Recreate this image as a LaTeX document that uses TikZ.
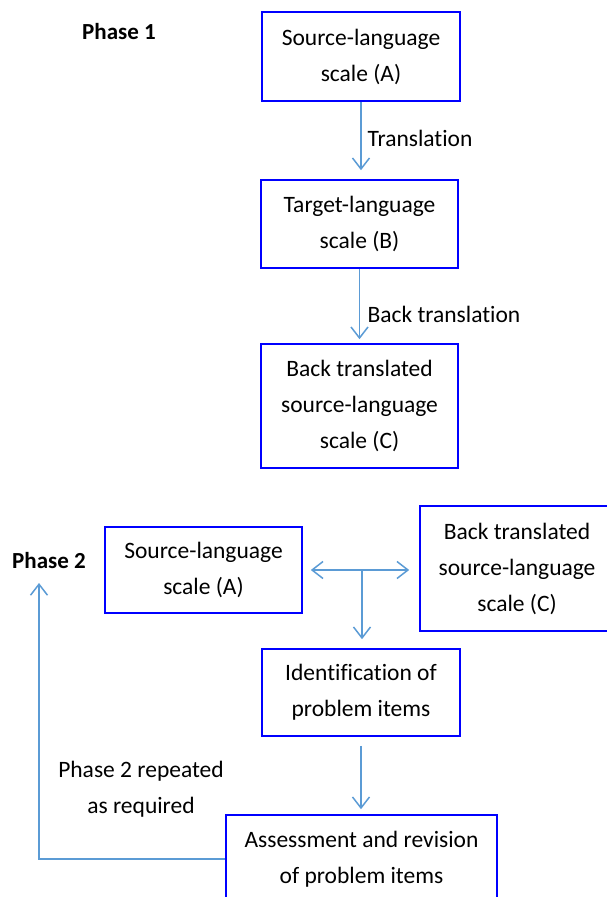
\documentclass[tikz,border=0pt]{standalone}
\usepackage{fontspec}
\setmainfont{Carlito}[Ligatures=NoCommon]
\usetikzlibrary{arrows.meta}

\definecolor{arrowblue}{RGB}{91,155,213}

\tikzset{
  stage/.style={draw=blue, line width=1.6pt, align=center, inner sep=0pt,
    font=\fontsize{23.5}{36}\selectfont},
  barb/.tip={Straight Barb[length=11pt,width=17pt,line width=1.5pt]},
  flow/.style={draw=arrowblue, line width=1.5pt, -barb},
  label/.style={align=center, font=\fontsize{23.5}{36}\selectfont}
}

\begin{document}
\begin{tikzpicture}[x=1pt,y=-1pt]

\clip (0,0) rectangle (607,897);

% phase 1
\node[label,font=\fontsize{23}{36}\selectfont\bfseries] (phaseone) at (119,32) {Phase 1};

\node[stage,minimum width=198pt,minimum height=89pt] (srcA) at (361,56.5) {Source-language\\scale (A)};
\node[stage,minimum width=197pt,minimum height=88pt] (tgtB) at (359.5,224) {Target-language\\scale (B)};
\node[stage,minimum width=197pt,minimum height=124pt] (backC) at (359.5,406) {Back translated\\source-language\\scale (C)};

\draw[flow,shorten >=9pt] (srcA.south) -- (srcA.south |- tgtB.north);
\draw[flow,shorten >=4pt] (tgtB.south) -- (tgtB.south |- backC.north);

\node[label,anchor=west] (transl) at (364,138) {Translation};
\node[label,anchor=west] (backtransl) at (364,314) {Back translation};

% phase 2
\node[label,font=\fontsize{23}{36}\selectfont\bfseries] (phasetwo) at (49,561) {Phase 2};

\node[stage,minimum width=197pt,minimum height=86pt] (srcA2) at (203.5,570) {Source-language\\scale (A)};
\node[stage,minimum width=194pt,minimum height=125pt] (backC2) at (517,568.5) {Back translated\\source-language\\scale (C)};
\node[stage,minimum width=198pt,minimum height=87pt] (ident) at (361,692.5) {Identification of\\problem items};
\node[stage,minimum width=271pt,minimum height=88pt] (assess) at (361.5,859) {Assessment and revision\\of problem items};

\coordinate (fork) at (362,570);
\coordinate (loopend) at (39,583);

\draw[flow,barb-barb,shorten <=8pt,shorten >=10pt] (srcA2.east) -- (backC2.west |- srcA2.east);
\draw[flow,shorten >=9pt] (fork) -- (fork |- ident.north);
\draw[flow,shorten <=9pt,shorten >=5pt] (ident.south) -- (ident.south |- assess.north);
\draw[flow] (assess.west) -| (loopend);

\node[label] (repeat) at (141,789) {Phase 2 repeated\\as required};

\end{tikzpicture}
\end{document}
